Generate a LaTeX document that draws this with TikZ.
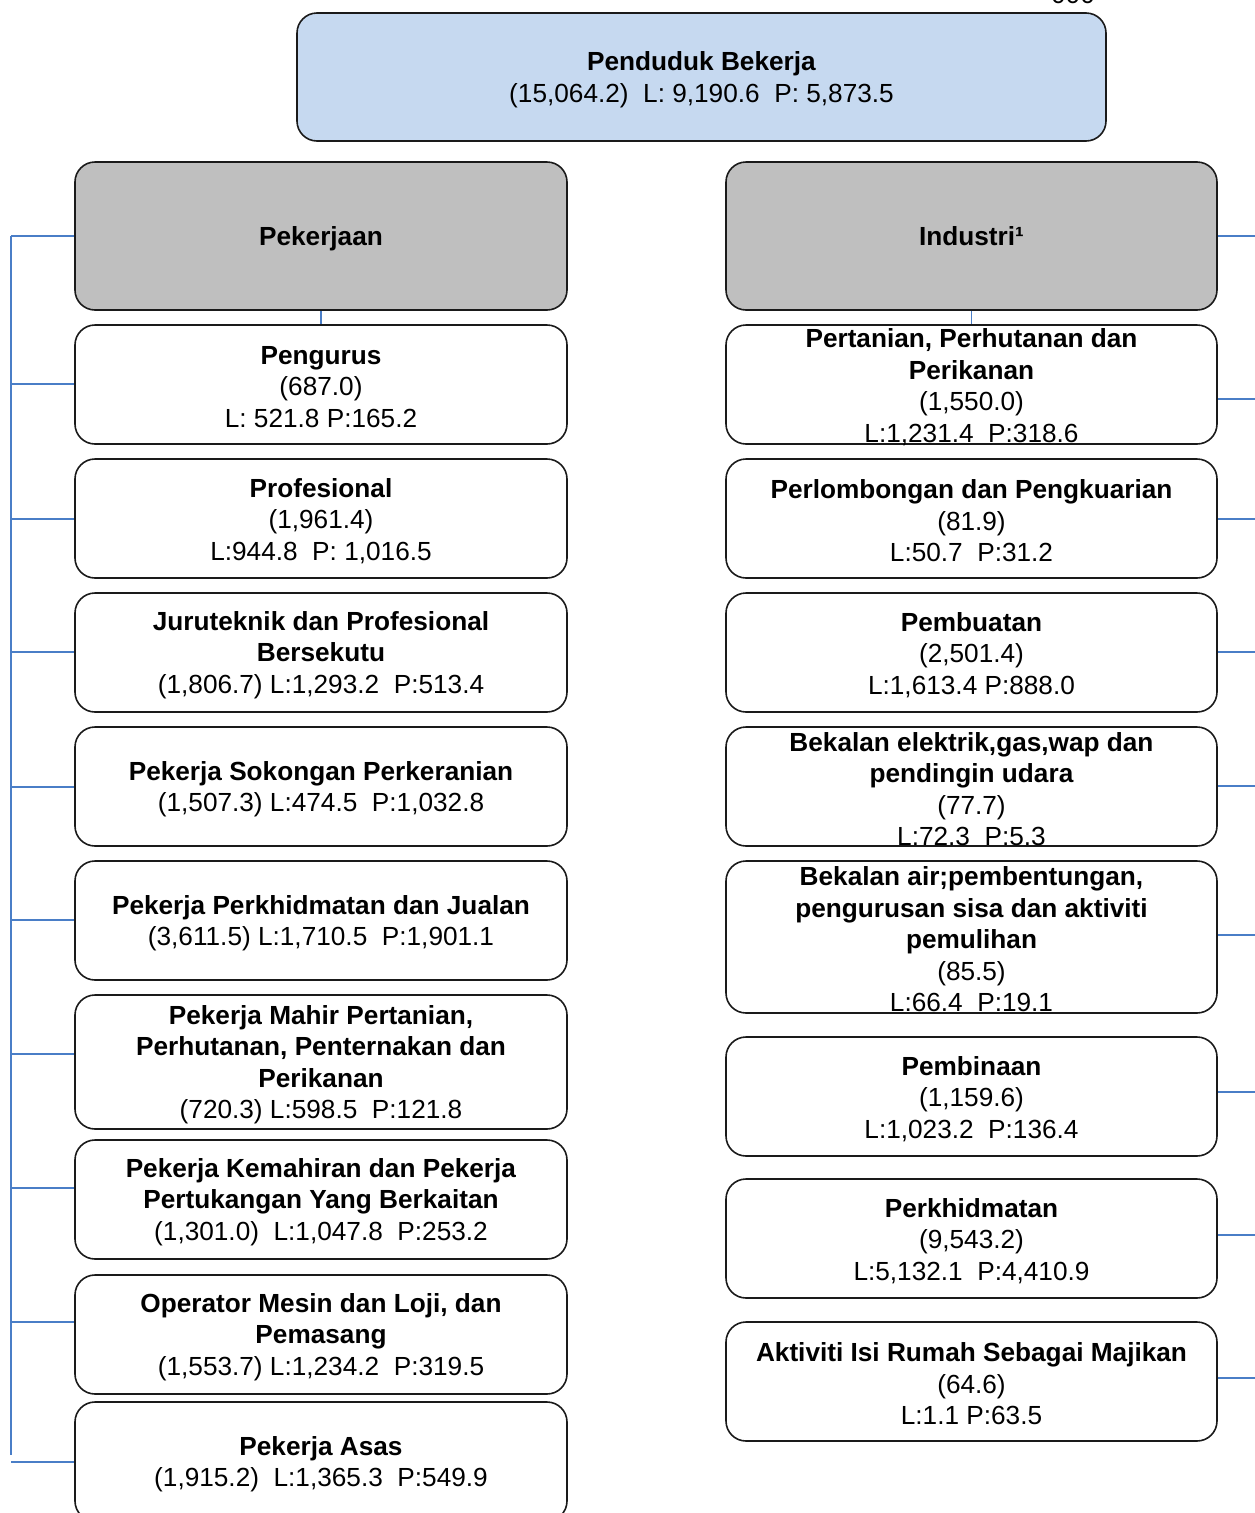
\documentclass[tikz,border=0pt]{standalone}
\usepackage{fontspec}
\setmainfont{Liberation Sans}
\definecolor{topblue}{HTML}{C6D9F0}
\definecolor{hdrgray}{HTML}{BFBFBF}
\definecolor{connblue}{HTML}{4A7EC7}
\definecolor{edge}{HTML}{1A1A1A}
\tikzset{
  boxshape/.style={draw=edge, line width=1.6pt, rounded corners=20pt, fill=white, inner sep=0pt},
  hdrbox/.style={boxshape, fill=hdrgray},
  topbox/.style={boxshape, fill=topblue},
  leftbox/.style={boxshape, minimum width=492pt},
  rightbox/.style={boxshape, minimum width=491pt},
  txt/.style={align=center, inner sep=0pt, yshift=-2.5pt, font=\fontsize{26.2}{31.5}\selectfont},
  conn/.style={draw=connblue, line width=1.8pt}
}
\begin{document}
\begin{tikzpicture}[x=1pt,y=-1pt]
\useasboundingbox (0,0) rectangle (1255,1513);
\fill[white] (0,0) rectangle (1255,1513);

% cut-off unit label at top
\node[txt, anchor=base, yshift=2.5pt] (unit) at (1073,3) {000};

% top box
\node[topbox, minimum width=809pt, minimum height=128pt] (top) at (701.5,77) {};
\node[txt] (toptxt) at (top) {\textbf{Penduduk Bekerja}\\(15,064.2)~ L: 9,190.6~ P: 5,873.5};

% headers
\node[hdrbox, minimum width=492pt, minimum height=148pt] (hp) at (321,236) {};
\node[txt] (hptxt) at (hp) {\textbf{Pekerjaan}};
\node[hdrbox, minimum width=491pt, minimum height=148pt] (hq) at (971.5,236) {};
\node[txt, yshift=2.5pt] (hqtxt) at (hq) {\textbf{Industri¹}};

% left column
\node[leftbox, minimum height=119pt] (p1) at (321,384.5) {};
\node[txt] (p1t) at (p1) {\textbf{Pengurus}\\(687.0)\\L: 521.8 P:165.2};
\node[leftbox, minimum height=119pt] (p2) at (321,518.5) {};
\node[txt] (p2t) at (p2) {\textbf{Profesional}\\(1,961.4)\\L:944.8~ P: 1,016.5};
\node[leftbox, minimum height=119pt] (p3) at (321,652.5) {};
\node[txt] (p3t) at (p3) {\textbf{Juruteknik dan Profesional}\\\textbf{Bersekutu}\\(1,806.7) L:1,293.2~ P:513.4};
\node[leftbox, minimum height=119pt] (p4) at (321,786.5) {};
\node[txt] (p4t) at (p4) {\textbf{Pekerja Sokongan Perkeranian}\\(1,507.3) L:474.5~ P:1,032.8};
\node[leftbox, minimum height=119pt] (p5) at (321,920.5) {};
\node[txt] (p5t) at (p5) {\textbf{Pekerja Perkhidmatan dan Jualan}\\(3,611.5) L:1,710.5~ P:1,901.1};
\node[leftbox, minimum height=134pt] (p6) at (321,1062) {};
\node[txt] (p6t) at (p6) {\textbf{Pekerja Mahir Pertanian,}\\\textbf{Perhutanan, Penternakan dan}\\\textbf{Perikanan}\\(720.3) L:598.5~ P:121.8};
\node[leftbox, minimum height=119pt] (p7) at (321,1199.5) {};
\node[txt] (p7t) at (p7) {\textbf{Pekerja Kemahiran dan Pekerja}\\\textbf{Pertukangan Yang Berkaitan}\\(1,301.0)~ L:1,047.8~ P:253.2};
\node[leftbox, minimum height=119pt] (p8) at (321,1334.5) {};
\node[txt] (p8t) at (p8) {\textbf{Operator Mesin dan Loji, dan}\\\textbf{Pemasang}\\(1,553.7) L:1,234.2~ P:319.5};
\node[leftbox, minimum height=119pt] (p9) at (321,1461.5) {};
\node[txt] (p9t) at (p9) {\textbf{Pekerja Asas}\\(1,915.2)~ L:1,365.3~ P:549.9};

% right column
\node[rightbox, minimum height=119pt] (q1) at (971.5,384.5) {};
\node[txt] (q1t) at (q1) {\textbf{Pertanian, Perhutanan dan}\\\textbf{Perikanan}\\(1,550.0)\\L:1,231.4~ P:318.6};
\node[rightbox, minimum height=119pt] (q2) at (971.5,518.5) {};
\node[txt] (q2t) at (q2) {\textbf{Perlombongan dan Pengkuarian}\\(81.9)\\L:50.7~ P:31.2};
\node[rightbox, minimum height=119pt] (q3) at (971.5,652.5) {};
\node[txt] (q3t) at (q3) {\textbf{Pembuatan}\\(2,501.4)\\L:1,613.4 P:888.0};
\node[rightbox, minimum height=119pt] (q4) at (971.5,786.5) {};
\node[txt] (q4t) at (q4) {\textbf{Bekalan elektrik,gas,wap dan}\\\textbf{pendingin udara}\\(77.7)\\L:72.3~ P:5.3};
\node[rightbox, minimum height=152pt] (q5) at (971.5,937) {};
\node[txt] (q5t) at (q5) {\textbf{Bekalan air;pembentungan,}\\\textbf{pengurusan sisa dan aktiviti}\\\textbf{pemulihan}\\(85.5)\\L:66.4~ P:19.1};
\node[rightbox, minimum height=119pt] (q6) at (971.5,1096.5) {};
\node[txt] (q6t) at (q6) {\textbf{Pembinaan}\\(1,159.6)\\L:1,023.2~ P:136.4};
\node[rightbox, minimum height=119pt] (q7) at (971.5,1238.5) {};
\node[txt] (q7t) at (q7) {\textbf{Perkhidmatan}\\(9,543.2)\\L:5,132.1~ P:4,410.9};
\node[rightbox, minimum height=119pt] (q8) at (971.5,1381.5) {};
\node[txt] (q8t) at (q8) {\textbf{Aktiviti Isi Rumah Sebagai Majikan}\\(64.6)\\L:1.1 P:63.5};

% short links under headers
\draw[conn] (hp.south) -- (p1.north);
\draw[conn] (hq.south) -- (q1.north);

% left spine
\coordinate (ltop) at (11,236);
\coordinate (lbot) at (11,1455);
\draw[conn] (ltop) -- (lbot);
\coordinate (l0) at (11,236);
\coordinate (l1) at (11,384);
\coordinate (l2) at (11,519);
\coordinate (l3) at (11,652);
\coordinate (l4) at (11,787);
\coordinate (l5) at (11,920);
\coordinate (l6) at (11,1054);
\coordinate (l7) at (11,1188);
\coordinate (l8) at (11,1322);
\coordinate (l9) at (11,1462);
\draw[conn] (l0) -- (l0 -| hp.west);
\draw[conn] (l1) -- (l1 -| p1.west);
\draw[conn] (l2) -- (l2 -| p2.west);
\draw[conn] (l3) -- (l3 -| p3.west);
\draw[conn] (l4) -- (l4 -| p4.west);
\draw[conn] (l5) -- (l5 -| p5.west);
\draw[conn] (l6) -- (l6 -| p6.west);
\draw[conn] (l7) -- (l7 -| p7.west);
\draw[conn] (l8) -- (l8 -| p8.west);
\draw[conn] (l9) -- (l9 -| p9.west);

% right stubs
\coordinate (r0) at (1255,236);
\coordinate (r1) at (1255,399);
\coordinate (r2) at (1255,519);
\coordinate (r3) at (1255,652);
\coordinate (r4) at (1255,786);
\coordinate (r5) at (1255,935);
\coordinate (r6) at (1255,1092);
\coordinate (r7) at (1255,1235);
\coordinate (r8) at (1255,1378);
\draw[conn] (r0 -| hq.east) -- (r0);
\draw[conn] (r1 -| q1.east) -- (r1);
\draw[conn] (r2 -| q2.east) -- (r2);
\draw[conn] (r3 -| q3.east) -- (r3);
\draw[conn] (r4 -| q4.east) -- (r4);
\draw[conn] (r5 -| q5.east) -- (r5);
\draw[conn] (r6 -| q6.east) -- (r6);
\draw[conn] (r7 -| q7.east) -- (r7);
\draw[conn] (r8 -| q8.east) -- (r8);
\end{tikzpicture}
\end{document}
